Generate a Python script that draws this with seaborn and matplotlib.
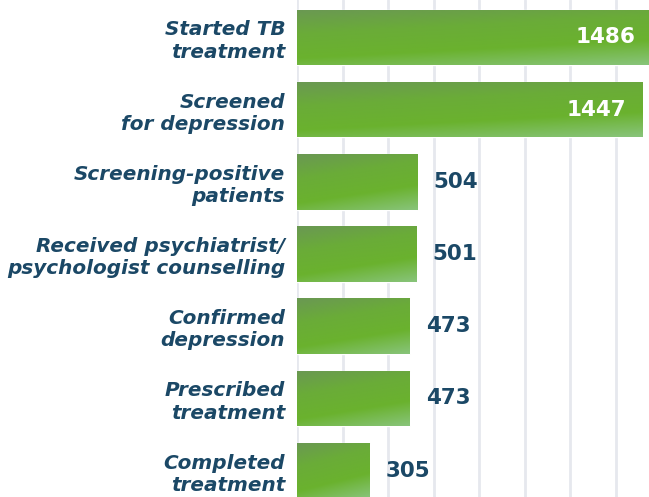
import numpy as np
import matplotlib
matplotlib.use("Agg")
import matplotlib.pyplot as plt
from matplotlib.colors import LinearSegmentedColormap
import seaborn as sns

categories = [
    "Started TB\ntreatment",
    "Screened\nfor depression",
    "Screening-positive\npatients",
    "Received psychiatrist/\npsychologist counselling",
    "Confirmed\ndepression",
    "Prescribed\ntreatment",
    "Completed\ntreatment",
]
values = [1486, 1447, 504, 501, 473, 473, 305]
grid_ticks = [0, 191, 382, 573, 764, 955, 1146, 1337]

NAVY = "#1b4866"
sns.set_theme(style="white")
plt.rcParams["font.family"] = ["DejaVu Sans"]

fig = plt.figure(figsize=(6.49, 4.97), dpi=100)
ax = fig.add_axes([297 / 649, 0, 1 - 297 / 649, 1])

sns.barplot(x=values, y=categories, orient="h", color="#6ab22e",
            width=0.77, ax=ax, zorder=2)

# diagonal green gradient clipped to each bar
grad_cmap = LinearSegmentedColormap.from_list(
    "bar", ["#6a9853", "#6aac38", "#6ab22e", "#88c47a"])
gu, gv = np.meshgrid(np.linspace(0, 1, 200), np.linspace(0, 1, 60))
grad = 0.75 * gv + 0.25 * gu
for p in list(ax.patches):
    x0, y0 = p.get_x(), p.get_y()
    w, h = p.get_width(), p.get_height()
    im = ax.imshow(grad, cmap=grad_cmap, vmin=0, vmax=1, aspect="auto",
                   extent=[x0, x0 + w, y0 + h, y0], zorder=3,
                   interpolation="bilinear")
    im.set_clip_path(p)

ax.set_xlim(0, 1476)
ax.set_ylim(6.367, -0.519)

for x in grid_ticks:
    ax.axvline(x, color="#e6e8ee", lw=2, zorder=1)

for i, v in enumerate(values):
    if v > 1000:
        ax.annotate(str(v), (v, i), xytext=(-16, 0), textcoords="offset pixels",
                    ha="right", va="center", color="white", fontsize=15.5,
                    fontweight="bold", zorder=5, annotation_clip=False)
    else:
        ax.annotate(str(v), (v, i), xytext=(16, 0), textcoords="offset pixels",
                    ha="left", va="center", color=NAVY, fontsize=15.5,
                    fontweight="bold", zorder=5)

ax.set_xticks([])
ax.set_xlabel("")
ax.set_ylabel("")
ax.tick_params(axis="y", length=0, pad=8.5)
for lab in ax.get_yticklabels():
    lab.set_fontsize(14.4)
    lab.set_style("italic")
    lab.set_fontweight("bold")
    lab.set_color(NAVY)
    lab.set_linespacing(1.22)
    lab.set_multialignment("right")
sns.despine(ax=ax, left=True, bottom=True)

fig.savefig("out.png", dpi=100)
plt.close(fig)
